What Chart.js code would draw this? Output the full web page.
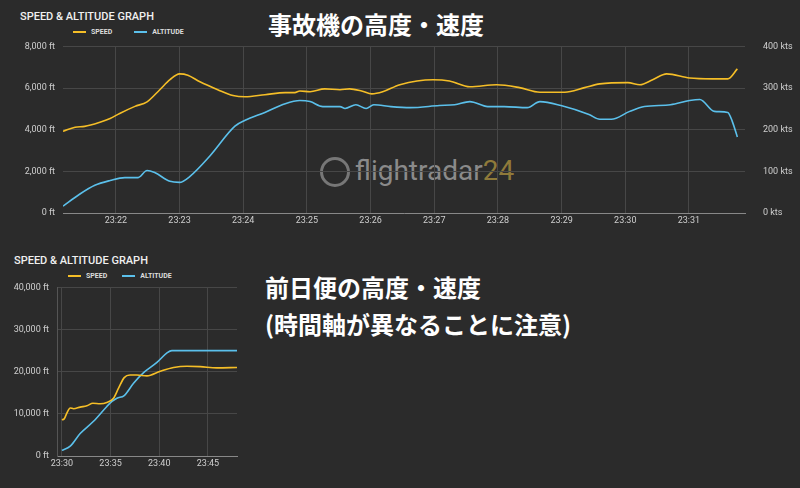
<!DOCTYPE html>
<html><head><meta charset="utf-8">
<script src="https://cdn.jsdelivr.net/npm/chart.js@4"></script>
<style>
html,body{margin:0;padding:0;background:#2b2b2b;width:800px;height:488px;overflow:hidden;font-family:Roboto,"Noto Sans",sans-serif}
.abs{position:absolute}
.t{color:#f0f0f0;font-size:11px;font-family:"Roboto","Liberation Sans Narrow",sans-serif;font-weight:500}
.lg{color:#ddd;font-size:7px;font-weight:bold;display:flex;align-items:center}
.lg i{display:inline-block;width:13px;height:2px;margin-right:5px}
.jp{color:#fff;font-family:"Noto Sans CJK JP";font-weight:bold}
</style></head><body>
<div class="abs t" style="left:20px;top:10px">SPEED &amp; ALTITUDE GRAPH</div>
<div class="abs lg" style="left:73px;top:28px"><i style="background:#f5be27"></i>SPEED<span style="width:22px"></span><i style="background:#5bc0eb"></i>ALTITUDE</div>
<div class="abs jp" style="left:268px;top:6px;font-size:24px">事故機の高度・速度</div>
<div class="abs" style="left:320px;top:157px;width:30px;height:30px;border:3px solid #777;border-radius:50%;box-sizing:border-box"></div>
<div class="abs" style="left:355px;top:154px;font-size:28px;color:#8a8a8a;font-family:'Roboto';letter-spacing:0px">flightradar<span style="color:#8f7a3a">24</span></div>
<div class="abs" style="left:0;top:31px;width:800px;height:199px"><canvas id="c1"></canvas></div>

<div class="abs t" style="left:14px;top:254px">SPEED &amp; ALTITUDE GRAPH</div>
<div class="abs lg" style="left:68px;top:272px"><i style="background:#f5be27"></i>SPEED<span style="width:15px"></span><i style="background:#5bc0eb"></i>ALTITUDE</div>
<div class="abs jp" style="left:265px;top:268px;font-size:24px;line-height:37px">前日便の高度・速度<br>(時間軸が異なることに注意)</div>
<div class="abs" style="left:0;top:274px;width:250px;height:199px"><canvas id="c2"></canvas></div>

<script>
// Chart 1 (accident flight): time in minutes after 23:00
const speed1T=[21.17,21.36,21.51,21.75,21.91,22.06,22.3,22.49,22.69,22.85,23.0,23.13,23.32,23.6,23.84,24.03,24.34,24.66,24.81,24.89,25.05,25.28,25.52,25.67,25.86,26.02,26.19,26.46,26.98,27.24,27.56,27.98,28.34,28.66,29.05,29.36,29.6,30.04,30.23,30.43,30.65,31.01,31.37,31.61,31.76];
const speed1=[196,206,208,218,227,239,256,267,296,320,334,331,315,296,282,279,284,289,289,293,291,298,296,298,293,286,291,308,320,317,303,308,301,290,290,301,310,313,308,320,334,324,322,322,346];
const alt1T=[21.17,21.43,21.67,21.91,22.14,22.35,22.49,22.61,22.85,23.0,23.16,23.48,23.87,24.03,24.34,24.66,24.89,25.05,25.25,25.52,25.6,25.77,25.93,26.05,26.32,26.62,27.08,27.32,27.56,27.84,28.1,28.46,28.66,28.99,29.43,29.6,29.78,30.07,30.3,30.71,31.01,31.17,31.4,31.61,31.68,31.76];
const alt1=[330,900,1330,1560,1700,1700,2040,1940,1520,1470,1750,2750,4170,4450,4830,5250,5400,5350,5110,5110,5020,5200,5020,5200,5110,5060,5160,5200,5350,5110,5110,5060,5350,5160,4730,4500,4500,4880,5110,5200,5400,5450,4880,4830,4400,3650];
const ticks1=[22,23,24,25,26,27,28,29,30,31];
// Chart 2 (previous day flight)
const speed2T=[30.0,30.24,30.51,30.86,31.2,31.88,32.57,33.18,33.94,34.62,35.3,35.82,36.4,37.0,37.7,38.73,40.1,41.47,42.84,44.2,45.92,47.98];
const speed2=[86,88,102,114,112,116,119,125,124,127,137,161,186,192,192,190,201,210,213,212,209,210];
const alt2T=[30.0,30.86,31.88,33.25,34.62,35.14,35.65,36.4,37.36,38.39,39.76,40.79,41.3,42.84,47.98];
const alt2=[1330,2350,5330,8230,11760,12940,13720,14350,17250,19760,22190,24460,25010,25010,25010];
const ticks2=[30,35,40,45];

const SC='#f5be27', AC='#5bc0eb', GRID='#474747', TXT='#cfcfcf';
const pts=(t,v)=>t.map((x,i)=>({x,y:v[i]}));
const fmt=v=>v.toLocaleString('en-US');
function ds(label,data,color,axis){return{label,data,borderColor:color,borderWidth:1.6,pointRadius:0,tension:0.4,cubicInterpolationMode:'monotone',yAxisID:axis,fill:false};}
const font={family:'Roboto',size:9};

new Chart(document.getElementById('c1'),{type:'line',
 data:{datasets:[ds('SPEED',pts(speed1T,speed1),SC,'y2'),ds('ALTITUDE',pts(alt1T,alt1),AC,'y')]},
 options:{responsive:true,maintainAspectRatio:false,animation:false,layout:{padding:{top:4}},
  plugins:{legend:{display:false},tooltip:{enabled:false}},
  scales:{
   x:{type:'linear',min:21.17,max:31.88,afterBuildTicks:s=>{s.ticks=ticks1.map(v=>({value:v}));},afterFit:s=>{s.height=17;},
      ticks:{color:TXT,font,callback:v=>'23:'+v,maxRotation:0,autoSkip:false,padding:2},grid:{color:GRID,drawTicks:false},border:{color:'#888'}},
   y:{position:'left',min:0,max:8000,afterFit:s=>{s.width=63;},ticks:{stepSize:2000,color:TXT,font,callback:v=>fmt(v)+' ft',padding:8},grid:{color:GRID,drawTicks:false},border:{display:false}},
   y2:{position:'right',min:0,max:400,afterFit:s=>{s.width=55;},ticks:{stepSize:100,color:TXT,font,callback:v=>v+' kts',padding:10},grid:{display:false},border:{display:false}}
  }}});

new Chart(document.getElementById('c2'),{type:'line',
 data:{datasets:[ds('SPEED',pts(speed2T,speed2),SC,'y2'),ds('ALTITUDE',pts(alt2T,alt2),AC,'y')]},
 options:{responsive:true,maintainAspectRatio:false,animation:false,layout:{padding:{top:4,right:13}},
  plugins:{legend:{display:false},tooltip:{enabled:false}},
  scales:{
   x:{type:'linear',min:29.5,max:47.98,afterBuildTicks:s=>{s.ticks=ticks2.map(v=>({value:v}));},afterFit:s=>{s.height=17;},
      ticks:{color:TXT,font,callback:v=>'23:'+v,maxRotation:0,autoSkip:false,padding:2},grid:{color:GRID,drawTicks:false},border:{color:'#888'}},
   y:{position:'left',min:0,max:40000,afterFit:s=>{s.width=57;},ticks:{stepSize:10000,color:TXT,font,callback:v=>fmt(v)+' ft',padding:8},grid:{color:GRID,drawTicks:false},border:{color:'#555'}},
   y2:{display:false,min:0,max:400}
  }}});
</script>
</body></html>
